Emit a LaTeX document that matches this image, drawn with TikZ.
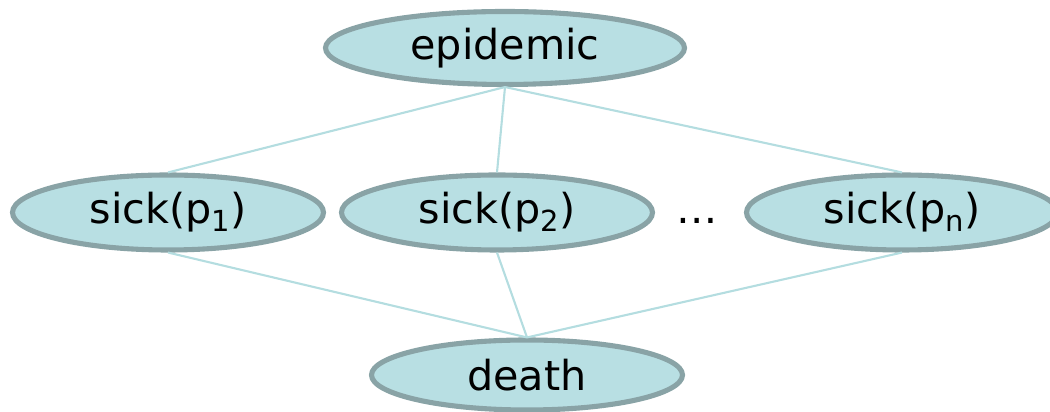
\documentclass[tikz,border=0pt]{standalone}
\usepackage{fontspec}
\setmainfont{DejaVu Sans}
\usepackage{tikz}
\usetikzlibrary{shapes.geometric}
\definecolor{nodefill}{RGB}{184, 223, 227}
\definecolor{nodeborder}{RGB}{137, 163, 166}
\definecolor{edgecolor}{RGB}{180, 221, 224}
\newcommand{\lowidx}[1]{\raisebox{-0.32ex}{\fontsize{16.5}{18}\selectfont #1}}

\begin{document}
\begin{tikzpicture}[
        bnode/.style={draw=nodeborder, line width=2.9pt, fill=nodefill, ellipse,
                minimum width=6.22cm, minimum height=1.5cm, inner sep=0pt,
                font=\fontsize{23.5}{28}\selectfont},
        link/.style={draw=edgecolor, line width=1.2pt}
    ]
            \useasboundingbox (0, 0) rectangle (21, -8.24);

            \pgfmathsetmacro{\topRow}{-0.96}
            \pgfmathsetmacro{\midRow}{-4.25}
            \pgfmathsetmacro{\botRow}{-7.5}

            \node[bnode, minimum width=7.18cm, minimum height=1.46cm] (ep) at (10.1, \topRow) {epidemic};

            \node[bnode] (s1) at (3.36, \midRow) {sick(p\lowidx{1})};
            \node[bnode] (s2) at (9.94, \midRow) {sick(p\lowidx{2})};
            \node[bnode] (sn) at (18.04, \midRow) {sick(p\lowidx{n})};
            \node[anchor=base, font=\fontsize{23.5}{28}\selectfont] (dots) at ([xshift=4cm]s2.base) {\dots};

            \node[bnode, minimum height=1.4cm] (de) at (10.54, \botRow) {death};

            % connect epidemic to every sick node, and every sick node to death
            \foreach \i in {1, 2, n}{
                    \draw[link] (ep.south) -- (s\i.north);
                    \draw[link] (s\i.south) -- (de.north);
                }

        \end{tikzpicture}
\end{document}
